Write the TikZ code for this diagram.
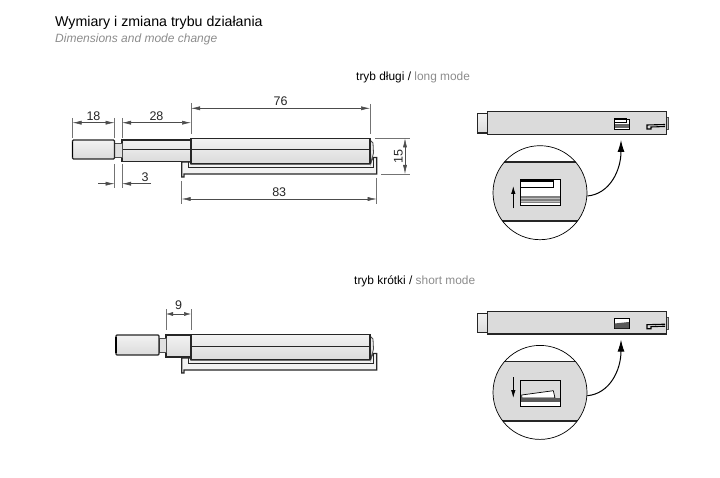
\documentclass[tikz,border=0pt]{standalone}
\usepackage{fontspec}
\setmainfont{Liberation Sans}
\usepackage{tikz}
\usetikzlibrary{arrows.meta}
\definecolor{panelgray}{gray}{0.86}
\definecolor{textgray}{gray}{0.55}
\tikzset{
	part/.style={draw=black!85,line width=1.1pt,top color=black!5,bottom color=black!14},
	thinpart/.style={draw=black!70,line width=0.8pt,fill=black!12},
	railpart/.style={draw=black!85,line width=1.1pt,fill=black!5},
	darkline/.style={draw=black!85,line width=1pt},
	extline/.style={draw=black!55,line width=0.5pt},
	sizearrow/.style={draw=black!70,line width=0.5pt,{Latex[length=9pt,width=4pt]}-{Latex[length=9pt,width=4pt]}},
	sizetip/.style={draw=black!70,line width=0.5pt,-{Latex[length=9pt,width=4pt]}},
	sizelabel/.style={font=\fontsize{12.5}{13}\selectfont,text=black!85,inner sep=2pt},
	bend arrow/.style={draw=black,line width=1pt,-{Latex[length=12pt,width=7pt]}},
	mode arrow/.style={draw=black,line width=0.8pt,-{Latex[length=8pt,width=4.5pt]}},
}
\newcommand{\sizeline}[5][above]{\coordinate (#2a) at (#3); \coordinate (#2b) at (#4);
	\draw[sizearrow] (#2a) -- node[sizelabel,#1] (#2) {#5} (#2b)}
\newcommand{\latchbody}[1]{\begin{scope}[shift={(0,#1)}]
		% rail
		\draw[railpart] (181.7,177) -- (181.7,162) -- (191,162) -- (191,164) -- (370,164) -- (373,157.5) -- (376.7,157.5) -- (376.7,174) -- (184,174) -- (184,177) -- cycle;
		\draw[darkline] (188,162) -- (188,167.3) -- (373,167.3) -- (373,157.5);
		% body
		\draw[thinpart,fill=black!8] (370,140) -- (373,143) -- (373.5,153) -- (371,163) -- cycle;
		\draw[part] (191,138.4) rectangle (370,163.5);
		\draw[darkline] (191,150) -- (370,150);
\end{scope}}
\newcommand{\sideview}[2]{\begin{scope}[shift={(0,#1)}]
		\draw[thinpart,fill=black!25] (664,117.7) rectangle (668,129.3);
		\draw[part,line width=1.2pt] (477.7,113.7) rectangle (487.7,133);
		\draw[part,line width=1.2pt,top color=panelgray,bottom color=panelgray] (487.7,111.7) rectangle (666.5,134.3);
		\draw[black,line width=0.9pt,fill=white] (614,119) rectangle (629.3,129);
		\draw[black,line width=1.1pt] (665,124.5) -- (647,125) -- (647,129) -- (651,129) -- (651,127) -- (665,126.5);
		\coordinate (#2 tip) at (621,140);
		\fill[white] (540,192.7) circle (47);
		\begin{scope}
			\clip (540,192.7) circle (47);
			\fill[panelgray] (490,161.7) rectangle (590,221);
			\draw[black!85,line width=1.8pt] (490,161.7) -- (590,161.7);
			\draw[black!85,line width=1.8pt] (490,221) -- (590,221);
		\end{scope}
		\draw[black,line width=0.7pt] (540,192.7) circle (47);
		\coordinate (#2 start) at (587.3,196);
		\draw[bend arrow] (#2 start) .. controls (610,194) and (621,170) .. (#2 tip);
\end{scope}}

\begin{document}
\begin{tikzpicture}[x=1pt,y=-1pt]
	\useasboundingbox (0,0) rectangle (720,478);
	
	\node[anchor=base west,inner sep=0pt,font=\fontsize{14.2}{15}\selectfont] (title) at (55,27) {Wymiary i zmiana trybu działania};
	\node[anchor=base west,inner sep=0pt,font=\fontsize{12}{13}\selectfont\itshape,text=textgray] (subtitle) at (55,43) {Dimensions and mode change};
	\node[anchor=base west,inner sep=0pt,font=\fontsize{11.9}{13}\selectfont] (longmode) at (356,81) {tryb długi / \textcolor{textgray}{long mode}};
	\node[anchor=base west,inner sep=0pt,font=\fontsize{11.9}{13}\selectfont] (shortmode) at (354,284) {tryb krótki / \textcolor{textgray}{short mode}};
	
	% long mode, dimensions
	\draw[part] (122,140) rectangle (191,161.7);
	\draw[darkline] (122,150) -- (191,150);
	\draw[thinpart] (114.5,143) rectangle (122,157);
	\draw[part,rounded corners=1pt] (72.5,140) rectangle (114.5,159);
	\draw[black,line width=1.8pt] (72.5,142) -- (72.5,157);
	\latchbody{0}
	
	\draw[extline] (72.5,118) -- (72.5,138)
	(114.5,118) -- (114.5,138)
	(122,118) -- (122,138)
	(191,103) -- (191,134)
	(370,104) -- (370,134)
	(114.5,164) -- (114.5,188)
	(122,164) -- (122,188)
	(181.7,181) -- (181.7,204)
	(376.7,178) -- (376.7,204)
	(375,138.4) -- (410,138.4)
	(381,174) -- (410,174);
	
	\sizeline{s18}{72.5,122.7}{114.5,122.7}{18};
	\sizeline{s28}{122,122.7}{191,122.7}{28};
	\sizeline{s76}{191,108.3}{370,108.3}{76};
	\sizeline{s83}{181.7,199}{376.7,199}{83};
	\sizeline[rotate=90,anchor=south]{s15}{405,138.4}{405,174}{15};
	
	\coordinate (s3l) at (98,183.7);
	\coordinate (s3m) at (114.5,183.7);
	\coordinate (s3n) at (122,183.7);
	\coordinate (s3r) at (151,183.7);
	\draw[sizetip] (s3l) -- (s3m);
	\draw[sizetip] (s3r) -- node[sizelabel,above,pos=0.2] (s3) {3} (s3n);
	
	% short mode, dimensions
	\draw[part] (166,335) rectangle (191,357);
	\draw[thinpart] (159,338) rectangle (166,352);
	\draw[part,rounded corners=1pt] (116,335) rectangle (159,355);
	\draw[black,line width=1.8pt] (116,337) -- (116,353);
	\latchbody{196}
	
	\draw[extline] (166,309) -- (166,330)
	(191,309) -- (191,330);
	\coordinate (s9l) at (166,314);
	\coordinate (s9r) at (191,314);
	\draw[draw=black!70,line width=0.5pt,{Latex[length=7pt,width=4pt]}-{Latex[length=7pt,width=4pt]}] (s9l) -- node[sizelabel,above,yshift=2pt] (s9) {9} (s9r);
	
	% long mode, side view
	\sideview{0}{long}
	\fill[black!60] (614.5,124.5) rectangle (628.8,128.5);
	\draw[black,line width=1pt] (614,119) -- (626,119) -- (626,122.5) -- (614,122.5);
	\draw[black,line width=0.9pt,fill=white] (520,179.3) rectangle (560,205);
	\draw[black,line width=1.1pt,fill=white] (520.7,181) -- (553.3,181) -- (553.3,187.7) -- (520.7,187.7);
	\fill[black!50] (520.5,196) rectangle (559.5,203);
	\draw[black!25,line width=0.5pt] (520.5,198.5) -- (559.5,198.5)
	(520.5,201) -- (559.5,201);
	\coordinate (uplow) at (513.3,208.3);
	\coordinate (uphigh) at (513.3,186);
	\draw[mode arrow] (uplow) -- (uphigh);
	
	% short mode, side view
	\sideview{199.7}{short}
	\fill[black!65] (614.5,323.5) -- (628.8,322) -- (628.8,328.3) -- (614.5,328.3) -- cycle;
	\draw[black,line width=0.9pt,fill=panelgray] (520,380) rectangle (560,406);
	\draw[black,line width=0.7pt,fill=white] (521.7,395) -- (553.3,390.7) -- (555,398) -- (521.7,398) -- cycle;
	\fill[black!65] (520.5,398) rectangle (559.5,402);
	\fill[white] (520.5,402) rectangle (559.5,405.5);
	\coordinate (downhigh) at (513.3,377);
	\coordinate (downlow) at (513.3,398);
	\draw[mode arrow] (downhigh) -- (downlow);
\end{tikzpicture}
\end{document}
